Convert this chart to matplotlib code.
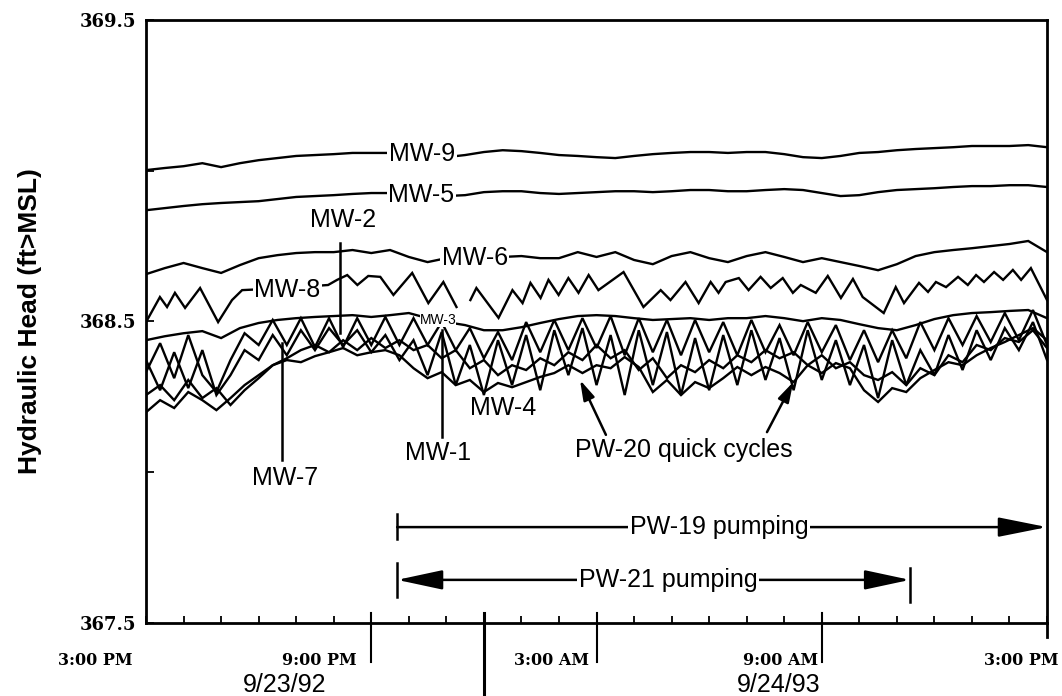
import numpy as np
import matplotlib.pyplot as plt

# time axis: hours after 3:00 PM on 9/23
hours_half = np.arange(0, 24.01, 0.5)
hours_fine = np.arange(0, 24.01, 0.375)

# hydraulic head readings (ft MSL)
mw9 = [369.002, 369.009, 369.015, 369.025, 369.012, 369.025, 369.035, 369.042, 369.049, 369.052,
       369.055, 369.059, 369.059, 369.059, 369.059, 369.059, 369.045, 369.052, 369.062, 369.068,
       369.065, 369.059, 369.052, 369.049, 369.045, 369.042, 369.049, 369.055, 369.059, 369.062,
       369.062, 369.059, 369.062, 369.062, 369.055, 369.045, 369.042, 369.049, 369.059, 369.062,
       369.068, 369.072, 369.075, 369.078, 369.082, 369.082, 369.082, 369.085, 369.078]
mw5 = [368.869, 368.876, 368.883, 368.889, 368.893, 368.896, 368.899, 368.906, 368.913, 368.916,
       368.919, 368.923, 368.926, 368.926, 368.926, 368.926, 368.916, 368.919, 368.929, 368.932,
       368.932, 368.926, 368.923, 368.926, 368.929, 368.932, 368.932, 368.929, 368.932, 368.936,
       368.936, 368.932, 368.932, 368.936, 368.939, 368.936, 368.926, 368.916, 368.919, 368.929,
       368.936, 368.939, 368.942, 368.946, 368.949, 368.949, 368.952, 368.952, 368.946]
mw6 = [368.657, 368.677, 368.694, 368.677, 368.661, 368.687, 368.710, 368.720, 368.727, 368.730,
       368.730, 368.737, 368.727, 368.737, 368.714, 368.697, 368.710, 368.720, 368.717, 368.714,
       368.717, 368.710, 368.710, 368.730, 368.714, 368.730, 368.704, 368.690, 368.717, 368.730,
       368.710, 368.697, 368.717, 368.730, 368.714, 368.697, 368.710, 368.697, 368.684, 368.670,
       368.690, 368.717, 368.730, 368.737, 368.743, 368.750, 368.757, 368.767, 368.730]
mw3 = [368.438, 368.451, 368.461, 368.468, 368.445, 368.478, 368.495, 368.505, 368.511, 368.515,
       368.518, 368.521, 368.515, 368.521, 368.528, 368.511, 368.498, 368.488, 368.471, 368.471,
       368.481, 368.495, 368.508, 368.518, 368.521, 368.518, 368.511, 368.505, 368.508, 368.511,
       368.505, 368.511, 368.511, 368.518, 368.511, 368.501, 368.511, 368.505, 368.491, 368.478,
       368.471, 368.488, 368.508, 368.521, 368.528, 368.531, 368.535, 368.538, 368.511]

mw8_hours = [0, 0.37, 0.56, 0.77, 1.04, 1.44, 1.92, 2.29, 2.56, 3.71,
             4.85, 5.09, 5.36, 5.63, 5.92, 6.24, 6.59, 7.09, 7.52, 7.92,
             8.27, 8.45, 8.64, 8.80, 9.39, 9.76, 10.03, 10.24, 10.51, 10.72,
             10.99, 11.25, 11.52, 11.79, 12.05, 12.72, 13.25, 13.71, 13.97, 14.37,
             14.72, 15.04, 15.25, 15.44, 15.79, 16.05, 16.37, 16.64, 16.96, 17.23,
             17.44, 17.84, 18.16, 18.51, 18.83, 19.09, 19.65, 19.97, 20.19, 20.59,
             20.83, 21.04, 21.31, 21.63, 21.89, 22.11, 22.32, 22.59, 22.83, 23.09,
             23.31, 23.57, 24.0]
mw8 = [368.498, 368.581, 368.548, 368.595, 368.545, 368.611, 368.498, 368.571, 368.604, 368.611,
       368.621, 368.638, 368.654, 368.621, 368.651, 368.648, 368.588, 368.661, 368.561, 368.631,
       368.548, np.nan, 368.571, 368.611, 368.512, 368.604, 368.561, 368.628, 368.578, 368.638,
       368.588, 368.644, 368.595, 368.654, 368.604, 368.664, 368.548, 368.604, 368.571, 368.631,
       368.561, 368.631, 368.595, 368.631, 368.644, 368.604, 368.648, 368.611, 368.644, 368.595,
       368.621, 368.595, 368.651, 368.578, 368.641, 368.581, 368.528, 368.614, 368.561, 368.628,
       368.598, 368.631, 368.614, 368.648, 368.621, 368.654, 368.631, 368.664, 368.638, 368.671,
       368.638, 368.677, 368.571]

mw2 = [368.332, 368.428, 368.312, 368.455, 368.322, 368.266, 368.372, 368.461, 368.422, 368.505,
       368.422, 368.511, 368.415, 368.511, 368.415, 368.511, 368.422, 368.515, 368.422, 368.511,
       368.422, 368.498, 368.405, 368.478, 368.378, 368.465, 368.372, 368.498, 368.398, 368.505,
       368.405, 368.511, 368.412, 368.518, 368.388, 368.511, 368.398, 368.505, 368.388, 368.505,
       368.398, 368.498, 368.388, 368.505, 368.398, 368.488, 368.388, 368.498, 368.398, 368.488,
       368.372, 368.471, 368.365, 368.471, 368.378, 368.498, 368.405, 368.511, 368.422, 368.518,
       368.432, 368.528, 368.438, 368.538, 368.422]
mw1 = [368.372, 368.272, 368.398, 368.279, 368.405, 368.256, 368.322, 368.405, 368.372, 368.455,
       368.388, 368.471, 368.405, 368.478, 368.422, 368.471, 368.398, 368.455, 368.372, 368.438,
       368.322, 368.465, 368.289, 368.422, 368.256, 368.438, 368.289, 368.455, 368.272, 368.471,
       368.322, 368.478, 368.289, 368.455, 368.256, 368.471, 368.289, 368.465, 368.256, 368.445,
       368.272, 368.455, 368.289, 368.471, 368.306, 368.445, 368.272, 368.471, 368.306, 368.438,
       368.289, 368.422, 368.246, 368.438, 368.289, 368.405, 368.322, 368.455, 368.339, 368.471,
       368.372, 368.478, 368.405, 368.498, 368.372]
mw7 = [368.256, 368.289, 368.239, 368.306, 368.246, 368.279, 368.223, 368.272, 368.312, 368.355,
       368.378, 368.405, 368.422, 368.398, 368.438, 368.405, 368.445, 368.412, 368.438, 368.405,
       368.422, 368.378, 368.405, 368.345, 368.372, 368.322, 368.355, 368.339, 368.378, 368.355,
       368.398, 368.372, 368.422, 368.378, 368.405, 368.339, 368.378, 368.312, 368.355, 368.332,
       368.372, 368.345, 368.388, 368.365, 368.405, 368.378, 368.398, 368.355, 368.388, 368.345,
       368.365, 368.322, 368.306, 368.332, 368.289, 368.345, 368.322, 368.388, 368.365, 368.422,
       368.405, 368.445, 368.432, 368.471, 368.412]
mw4 = [368.199, 368.239, 368.213, 368.266, 368.239, 368.206, 368.246, 368.289, 368.322, 368.355,
       368.372, 368.365, 368.385, 368.398, 368.412, 368.388, 368.398, 368.405, 368.388, 368.345,
       368.312, 368.332, 368.289, 368.306, 368.266, 368.296, 368.282, 368.299, 368.316, 368.329,
       368.355, 368.329, 368.355, 368.345, 368.382, 368.349, 368.266, 368.306, 368.256, 368.299,
       368.279, 368.312, 368.349, 368.322, 368.349, 368.329, 368.299, 368.355, 368.329, 368.362,
       368.345, 368.272, 368.233, 368.279, 368.266, 368.312, 368.339, 368.365, 368.355, 368.388,
       368.412, 368.432, 368.455, 368.478, 368.438]

# pumping periods (hours after 3:00 PM)
pw19_start, pw19_end = 6.69, 24.0
pw21_start, pw21_end = 6.69, 20.35

tick_hours = [0, 6, 12, 18, 24]
tick_names = ['3:00 PM', '9:00 PM', '3:00 AM', '9:00 AM', '3:00 PM']

fig = plt.figure(figsize=(10.62, 6.96), dpi=100)
ax = fig.add_axes([0.1375, 0.1049, 0.8484, 0.8664])

lw = 1.7
for vals in [mw9, mw5, mw6, mw3]:
    ax.plot(hours_half, vals, color='black', lw=lw, solid_joinstyle='miter')
ax.plot(mw8_hours, mw8, color='black', lw=lw, solid_joinstyle='miter')
for vals in [mw4, mw7, mw1, mw2]:
    ax.plot(hours_fine, vals, color='black', lw=lw, solid_joinstyle='miter')

ax.set_xlim(0, 24)
ax.set_ylim(367.5, 369.5)
for s in ax.spines.values():
    s.set_linewidth(2)

ax.set_xticks(np.arange(0, 25, 1))
ax.tick_params(axis='x', direction='in', length=5, width=1.3, labelbottom=False)
ax.set_yticks([367.5, 368.5, 369.5])
ax.set_yticklabels(['367.5', '368.5', '369.5'], fontfamily='DejaVu Serif',
                   fontweight='bold', fontsize=13)
ax.set_yticks([368.0, 369.0], minor=True)
ax.tick_params(axis='y', which='both', direction='in', length=6, width=1.3, pad=7)

xt = ax.get_xaxis_transform()
# long 6-hour ticks, date divider
for h in tick_hours[1:4]:
    ax.plot([h, h], [0.017, -0.065], color='black', lw=1.5, transform=xt, clip_on=False)
ax.plot([24, 24], [0, -0.023], color='black', lw=2, transform=xt, clip_on=False)
ax.plot([9, 9], [0.017, -0.14], color='black', lw=2.2, transform=xt, clip_on=False)

label_right = [-0.35, 5.62, 11.8, 17.9, 24.3]
for x, name in zip(label_right, tick_names):
    ax.text(x, -0.062, name, transform=xt, ha='right', va='center',
            fontfamily='DejaVu Serif', fontweight='bold', fontsize=11.5)
ax.text(3.68, -0.103, '9/23/92', transform=xt, ha='center', va='center',
        fontfamily='Liberation Sans', fontsize=18)
ax.text(16.85, -0.103, '9/24/93', transform=xt, ha='center', va='center',
        fontfamily='Liberation Sans', fontsize=18)

fig.text(0.028, 0.538, 'Hydraulic Head (ft>MSL)', rotation=90, ha='center', va='center',
         fontfamily='Liberation Sans', fontweight='bold', fontsize=19)

# well labels
box = dict(facecolor='white', edgecolor='none', pad=1)
kw = dict(ha='center', va='center', fontfamily='Liberation Sans', fontsize=18, zorder=5)
ax.text(7.35, 369.056, 'MW-9', bbox=box, **kw)
ax.text(7.33, 368.92, 'MW-5', bbox=box, **kw)
ax.text(8.76, 368.71, 'MW-6', bbox=box, **kw)
ax.text(3.76, 368.604, 'MW-8', bbox=box, **kw)
ax.text(7.78, 368.505, 'MW-3', bbox=dict(facecolor='white', edgecolor='none', pad=0),
        ha='center', va='center', fontfamily='Liberation Sans', fontsize=10, zorder=5)
ax.text(5.25, 368.837, 'MW-2', **kw)
ax.text(3.7, 367.98, 'MW-7', **kw)
ax.text(7.78, 368.064, 'MW-1', **kw)
ax.text(9.51, 368.213, 'MW-4', **kw)

# pointer lines
ax.plot([5.17, 5.17], [368.76, 368.462], color='black', lw=1.8)
ax.plot([3.62, 3.62], [368.429, 368.041], color='black', lw=1.8)
ax.plot([7.88, 7.88], [368.472, 368.117], color='black', lw=1.8)

ax.text(14.33, 368.074, 'PW-20 quick cycles', **kw)
arr = dict(arrowstyle='-|>,head_length=1.2,head_width=0.35', color='black', lw=1.8,
           mutation_scale=10, shrinkA=0, shrinkB=0)
ax.annotate('', xy=(11.56, 368.306), xytext=(12.25, 368.124), arrowprops=arr)
ax.annotate('', xy=(17.24, 368.299), xytext=(16.54, 368.133), arrowprops=arr)

# pumping periods
y19, y21 = 367.818, 367.643
ax.annotate('', xy=(pw19_end, y19), xytext=(pw19_start, y19),
            arrowprops=dict(arrowstyle='-|>,head_length=3.0,head_width=0.6', color='black',
                            lw=1.8, mutation_scale=10, shrinkA=0, shrinkB=0))
ax.plot([pw19_start, pw19_start], [367.78, 367.86], color='black', lw=1.8)
ax.text(15.26, y19, 'PW-19 pumping', **kw, bbox=box)

ax.annotate('', xy=(pw21_end, y21), xytext=(pw21_start, y21),
            arrowprops=dict(arrowstyle='<|-|>,head_length=2.8,head_width=0.6', color='black',
                            lw=1.8, mutation_scale=10, shrinkA=0, shrinkB=0))
ax.plot([pw21_start, pw21_start], [367.586, 367.699], color='black', lw=1.8)
ax.plot([pw21_end, pw21_end], [367.57, 367.682], color='black', lw=1.8)
ax.text(13.9, y21, 'PW-21 pumping', **kw, bbox=box)

fig.savefig('out.png', dpi=100)
